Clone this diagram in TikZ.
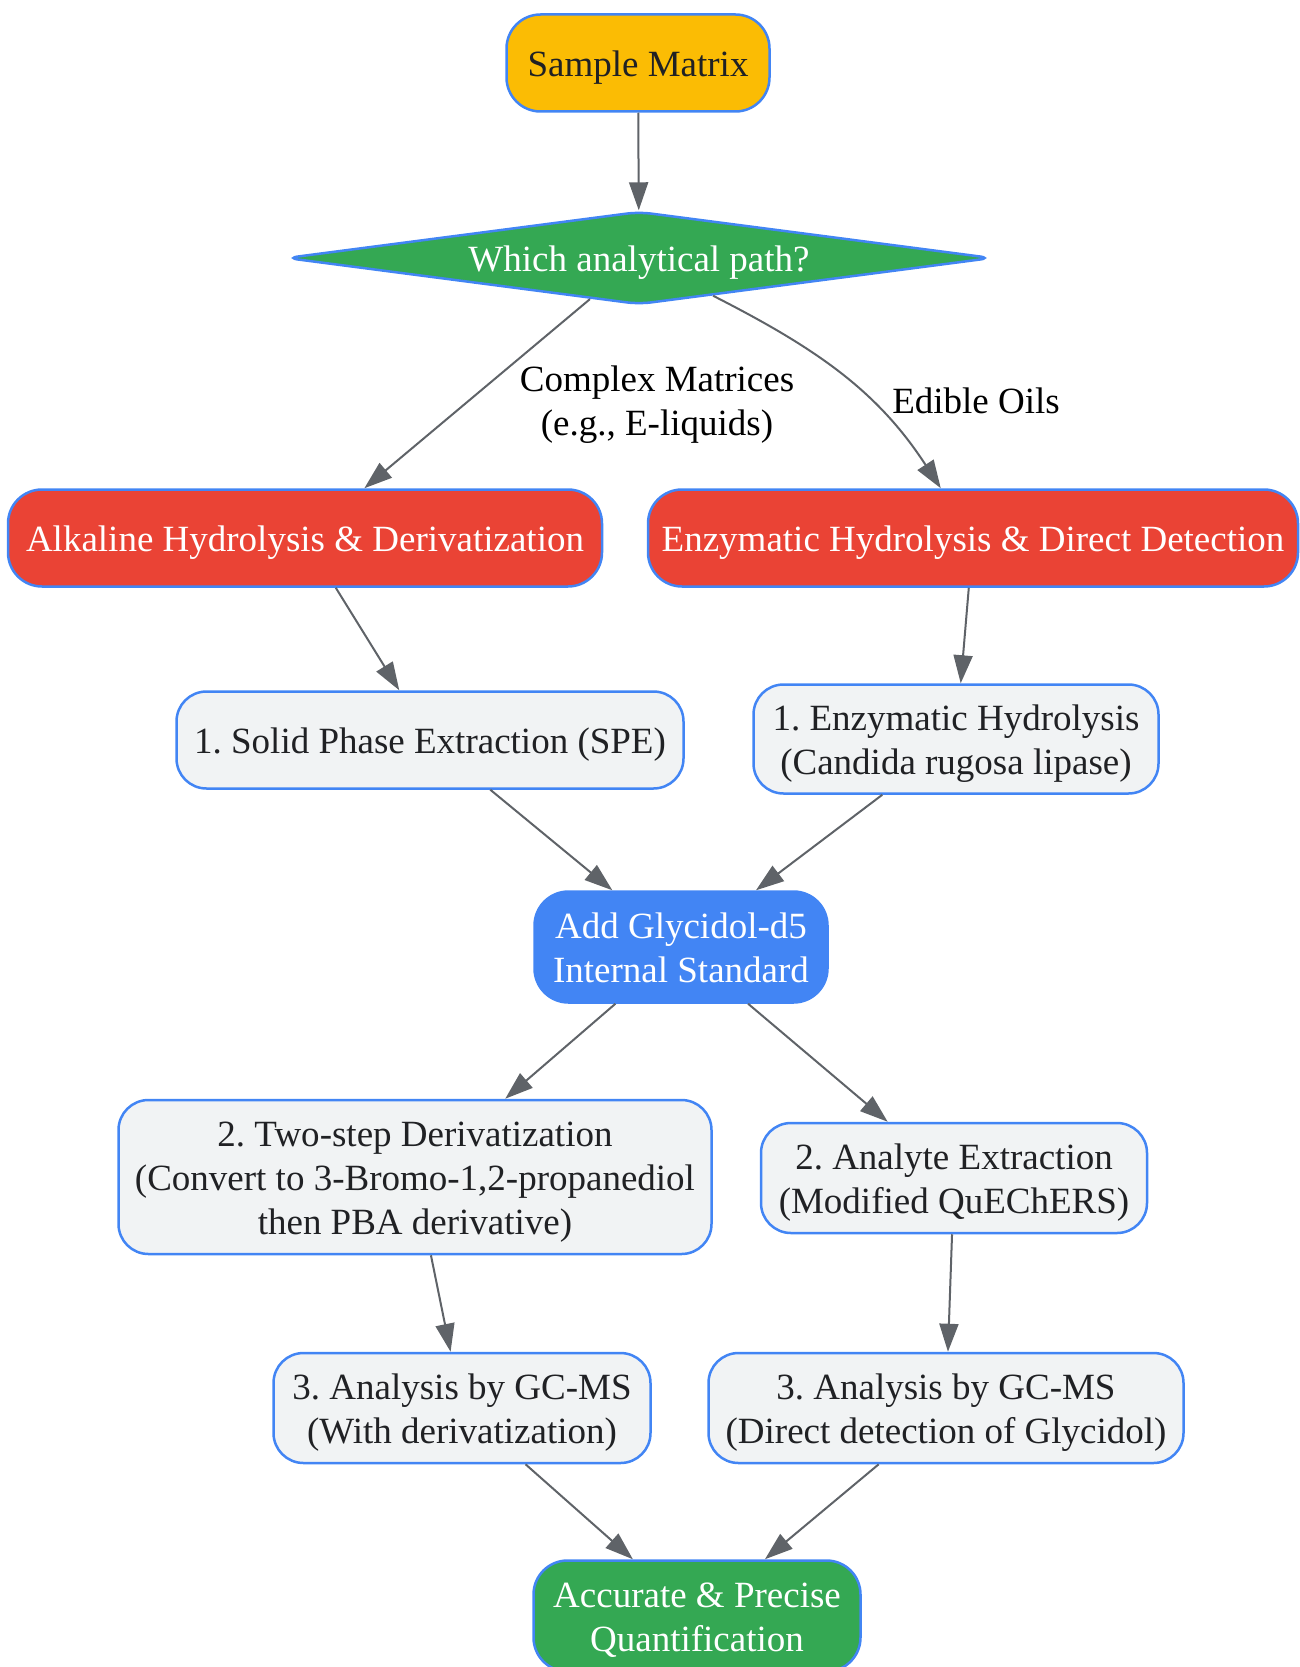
\documentclass[tikz,border=0pt]{standalone}
\usepackage{fontspec}
\setmainfont{Liberation Serif}
\usetikzlibrary{arrows.meta,shapes.geometric}
\frenchspacing
\definecolor{gyellow}{HTML}{FBBC04}
\definecolor{ggreen}{HTML}{34A853}
\definecolor{gred}{HTML}{EA4335}
\definecolor{gblue}{HTML}{4285F4}
\definecolor{ggray}{HTML}{F1F3F4}
\definecolor{gdark}{HTML}{202124}
\definecolor{garrow}{HTML}{5F6368}
\tikzset{
  txt/.style={align=center, font=\fontsize{37}{44}\selectfont, text height=36pt, text depth=9pt},
  twolines/.style={text height=80pt},
  threelines/.style={text height=124pt},
  box/.style={txt, draw=gblue, line width=2.5pt, rounded corners=34pt, inner sep=0pt},
  start/.style={box, fill=gyellow, text=gdark},
  method/.style={box, fill=gred, text=white},
  stepbox/.style={box, fill=ggray, text=gdark, rounded corners=30pt},
  istd/.style={box, fill=gblue, text=white},
  finish/.style={box, fill=ggreen, text=white},
  decision/.style={txt, diamond, shape aspect=7.6, draw=gblue, line width=2.5pt, fill=ggreen,
    text=white, inner sep=0pt, rounded corners=12pt},
  elabel/.style={txt, text=black},
  flow/.style={draw=garrow, line width=2pt, -{Triangle[length=28pt,width=19pt]}},
}
\begin{document}
\begin{tikzpicture}[x=1pt,y=-1pt]
  \useasboundingbox (0,0) rectangle (1300,1667);

  % nodes
  \node[start, minimum width=263pt, minimum height=97pt] (sample) at (638,63) {Sample Matrix};
  \node[decision, minimum width=706pt, minimum height=93pt] (path) at (639,258) {Which analytical path?};
  \node[method, minimum width=594pt, minimum height=97pt] (alkaline) at (305,538) {Alkaline Hydrolysis \& Derivatization};
  \node[method, minimum width=650pt, minimum height=97pt] (enzymatic) at (973,538) {Enzymatic Hydrolysis \& Direct Detection};
  \node[stepbox, minimum width=507pt, minimum height=97pt] (spe) at (430,740) {1. Solid Phase Extraction (SPE)};
  \node[stepbox, twolines, minimum width=405pt, minimum height=109pt] (lipase) at (956,739) {1. Enzymatic Hydrolysis\\(Candida rugosa lipase)};
  \node[istd, twolines, minimum width=293pt, minimum height=111pt] (glycidol) at (681,947) {Add Glycidol-d5\\Internal Standard};
  \node[stepbox, threelines, minimum width=593pt, minimum height=154pt] (deriv) at (415,1177) {2. Two-step Derivatization\\(Convert to 3-Bromo-1,2-propanediol\\then PBA derivative)};
  \node[stepbox, twolines, minimum width=386pt, minimum height=110pt] (quechers) at (954,1178) {2. Analyte Extraction\\(Modified QuEChERS)};
  \node[stepbox, twolines, minimum width=377pt, minimum height=110pt] (gcderiv) at (462,1408) {3. Analysis by GC-MS\\(With derivatization)};
  \node[stepbox, twolines, minimum width=475pt, minimum height=110pt] (gcdirect) at (946,1408) {3. Analysis by GC-MS\\(Direct detection of Glycidol)};
  \node[finish, twolines, minimum width=327pt, minimum height=111pt] (quant) at (697,1616) {Accurate \& Precise\\Quantification};

  % edge labels
  \node[elabel, twolines] (complex) at (657,400) {Complex Matrices\\(e.g., E-liquids)};
  \node[elabel] (oils) at (976,400) {Edible Oils};

  % connectors
  \draw[flow] (sample) -- (path);
  \draw[flow] (path) -- (alkaline);
  \draw[flow] (path) to[out=-27, in=123] (enzymatic);
  \draw[flow] (alkaline) -- (spe);
  \draw[flow] (enzymatic) -- (lipase);
  \draw[flow] (spe) -- (glycidol);
  \draw[flow] (lipase) -- (glycidol);
  \draw[flow] (glycidol) -- (deriv);
  \draw[flow] (glycidol) -- (quechers);
  \draw[flow] (deriv) -- (gcderiv);
  \draw[flow] (quechers) -- (gcdirect);
  \draw[flow] (gcderiv) -- (quant);
  \draw[flow] (gcdirect) -- (quant);
\end{tikzpicture}
\end{document}
